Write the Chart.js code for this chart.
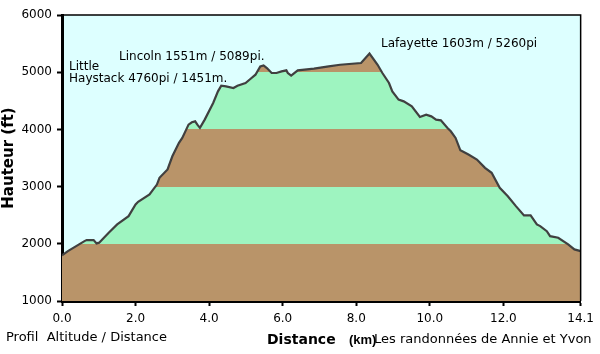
<!DOCTYPE html>
<html>
<head>
<meta charset="utf-8">
<script src="https://cdn.jsdelivr.net/npm/chart.js"></script>
<style>
  html, body { margin: 0; padding: 0; background: #fff; }
  #wrap { width: 600px; height: 354px; }
</style>
</head>
<body>
<div id="wrap"><canvas id="profil" width="600" height="354"></canvas></div>
<script>
// profil : distance (km) / altitude (pieds)
const distKm = [
  0.00, 0.16, 0.61, 0.67, 0.86, 0.94, 1.01, 1.27, 1.50, 1.81,
  2.00, 2.07, 2.38, 2.58, 2.65, 2.87, 3.00, 3.18, 3.27, 3.44,
  3.53, 3.62, 3.68, 3.75, 3.88, 4.11, 4.24, 4.33, 4.46, 4.66,
  4.77, 4.99, 5.12, 5.26, 5.39, 5.48, 5.57, 5.70, 5.83, 5.97,
  6.10, 6.14, 6.23, 6.41, 6.85, 7.25, 7.56, 8.13, 8.36, 8.58,
  8.71, 8.89, 8.98, 9.15, 9.29, 9.51, 9.73, 9.90, 10.04, 10.17,
  10.30, 10.48, 10.57, 10.70, 10.83, 11.05, 11.28, 11.50, 11.68, 11.90,
  12.12, 12.34, 12.56, 12.74, 12.91, 13.00, 13.18, 13.27, 13.49, 13.76,
  13.93, 14.10
];
const altFt = [
  1800, 1873, 2047, 2065, 2065, 2007, 2020, 2193, 2338, 2483,
  2687, 2735, 2862, 3036, 3153, 3300, 3530, 3765, 3851, 4083,
  4124, 4141, 4083, 4026, 4171, 4462, 4665, 4764, 4752, 4724,
  4764, 4811, 4881, 4956, 5101, 5118, 5073, 4986, 4986, 5014,
  5032, 4986, 4939, 5032, 5061, 5101, 5130, 5160, 5325, 5130,
  4986, 4811, 4665, 4520, 4490, 4403, 4218, 4258, 4228, 4171,
  4158, 4026, 3967, 3851, 3635, 3560, 3473, 3328, 3241, 2979,
  2832, 2658, 2496, 2496, 2338, 2309, 2221, 2134, 2106, 1989,
  1902, 1873
];

const xTicks = [0, 2, 4, 6, 8, 10, 12, 14.1];
const bandEdges = [1000, 2000, 3000, 4000, 5000, 6000];
const bandColors = ['#b99469', '#9ef4c0', '#b99469', '#9ef4c0', '#b99469'];

const sommets = ['Little', 'Haystack 4760pi / 1451m.', 'Lincoln 1551m / 5089pi.', 'Lafayette 1603m / 5260pi'];
const piedDePage = ['Profil  Altitude / Distance', 'Distance', '(km)', 'Les randonnées de Annie et Yvon'];

const skyColor = '#ddffff';

// bandes de couleur sous le profil : dégradé à arrêts francs
function bandFill(context) {
  const chart = context.chart;
  const y = chart.scales.y;
  if (!chart.chartArea || !y) return bandColors[0];
  const lo = bandEdges[0], hi = bandEdges[bandEdges.length - 1];
  const g = chart.ctx.createLinearGradient(0, y.getPixelForValue(lo), 0, y.getPixelForValue(hi));
  for (let i = 0; i < bandColors.length; i++) {
    g.addColorStop((bandEdges[i] - lo) / (hi - lo), bandColors[i]);
    g.addColorStop((bandEdges[i + 1] - lo) / (hi - lo), bandColors[i]);
  }
  return g;
}

const decor = {
  id: 'decor',
  beforeDraw(chart) {
    const { ctx, chartArea: a } = chart;
    ctx.save();
    ctx.fillStyle = skyColor;
    ctx.fillRect(a.left, a.top, a.right - a.left, a.bottom - a.top);
    ctx.restore();
  },
  afterDraw(chart) {
    const { ctx, chartArea: a } = chart;
    ctx.save();
    // cadre haut et droite
    ctx.strokeStyle = '#000';
    ctx.lineWidth = 1.5;
    ctx.beginPath();
    ctx.moveTo(a.left, a.top);
    ctx.lineTo(a.right, a.top);
    ctx.lineTo(a.right, a.bottom);
    ctx.stroke();

    ctx.fillStyle = '#000';
    ctx.textBaseline = 'middle';
    ctx.textAlign = 'left';
    ctx.font = '12px "DejaVu Sans"';
    ctx.fillText(sommets[0], 69, 67);
    ctx.fillText(sommets[1], 69, 79);
    ctx.fillText(sommets[2], 119, 57);
    ctx.fillText(sommets[3], 381, 44);

    ctx.font = '13px "DejaVu Sans"';
    ctx.fillText(piedDePage[0], 6, 338);
    ctx.font = 'bold 14px "DejaVu Sans"';
    ctx.fillText(piedDePage[1], 267, 340);
    ctx.font = 'bold 13px "Liberation Sans"';
    ctx.fillText(piedDePage[2], 349, 340);
    ctx.font = '13px "DejaVu Sans"';
    ctx.fillText(piedDePage[3], 374, 340);
    ctx.restore();
  }
};

const axisFont = { family: 'DejaVu Sans', size: 12 };

new Chart(document.getElementById('profil'), {
  type: 'line',
  data: {
    datasets: [{
      data: distKm.map((d, i) => ({ x: d, y: altFt[i] })),
      borderColor: '#404040',
      borderWidth: 2.2,
      pointRadius: 0,
      tension: 0,
      fill: 'start',
      backgroundColor: bandFill
    }]
  },
  options: {
    responsive: false,
    animation: false,
    layout: { padding: { top: 15, right: 7, left: 0, bottom: 0 } },
    plugins: { legend: { display: false }, tooltip: { enabled: false } },
    scales: {
      x: {
        type: 'linear',
        min: 0,
        max: 14.1,
        afterBuildTicks: s => { s.ticks = xTicks.map(v => ({ value: v })); },
        afterFit: s => { s.height = 53; },
        ticks: { callback: v => v.toFixed(1), font: axisFont, color: '#000', padding: 6, maxRotation: 0, autoSkip: false },
        grid: { drawOnChartArea: false, tickLength: 5, tickWidth: 2, color: '#000' },
        border: { color: '#000', width: 3 }
      },
      y: {
        min: 1000,
        max: 6000,
        afterFit: s => { s.width = 62; },
        ticks: { stepSize: 1000, callback: v => String(v), font: axisFont, color: '#000', padding: 5 },
        grid: { drawOnChartArea: false, tickLength: 5, tickWidth: 2, color: '#000' },
        border: { color: '#000', width: 3 },
        title: { display: true, text: 'Hauteur (ft)', color: '#000', font: { family: 'DejaVu Sans', size: 15, weight: 'bold' }, padding: 0 }
      }
    }
  },
  plugins: [decor]
});
</script>
</body>
</html>
